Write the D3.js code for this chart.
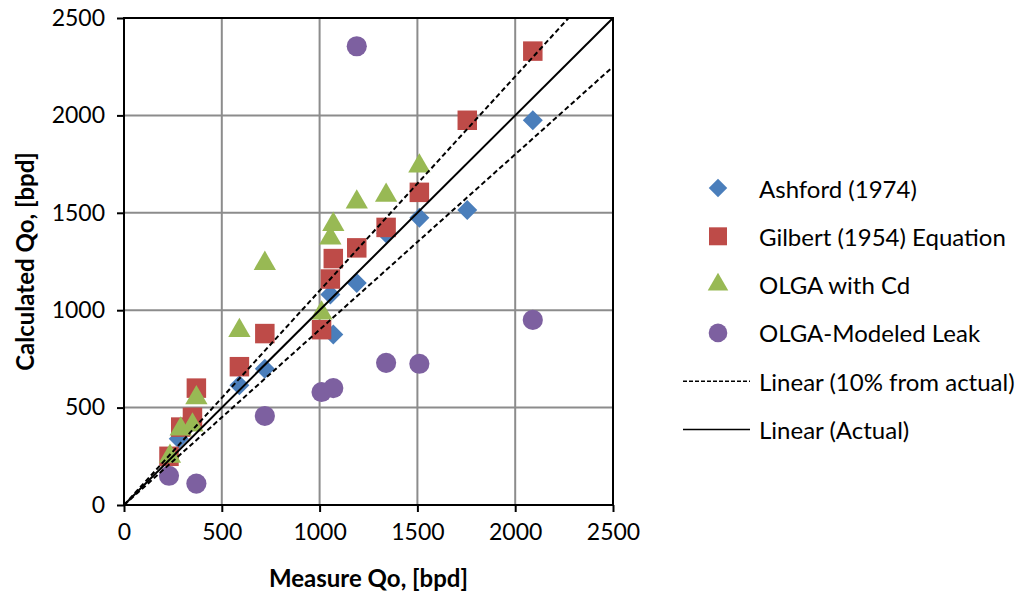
<!DOCTYPE html>
<html>
<head>
<meta charset="utf-8">
<script src="https://cdn.jsdelivr.net/npm/d3@7"></script>
<style>
  body { margin: 0; background: #fff; }
  text { font-family: Lato, "Open Sans", sans-serif; fill: #000; }
</style>
</head>
<body>
<div class="grafico"></div>
<script>
const width = 1028, height = 595;

const ashford = [[280, 340], [590, 615], [720, 700], [1055, 1080], [1070, 875],
                 [1190, 1140], [1340, 1395], [1510, 1475], [1755, 1515], [2090, 1975]];
const gilbert = [[230, 250], [290, 400], [350, 450], [370, 600], [590, 710], [720, 880],
                 [1010, 900], [1055, 1160], [1070, 1265], [1190, 1320], [1340, 1425],
                 [1510, 1605], [1755, 1975], [2090, 2330]];
const olgaCd = [[235, 250], [290, 390], [350, 410], [370, 550], [590, 895], [720, 1240],
                [1010, 985], [1055, 1370], [1070, 1440], [1190, 1555], [1340, 1590], [1510, 1740]];
const olgaLeak = [[230, 150], [370, 110], [720, 457], [1010, 580], [1070, 600],
                  [1190, 2355], [1340, 730], [1510, 725], [2090, 950]];
const ticks = [0, 500, 1000, 1500, 2000, 2500];
const seriesNames = ["Ashford (1974)", "Gilbert (1954) Equation", "OLGA with Cd", "OLGA-Modeled Leak"];
const lineNames = ["Linear (10% from actual)", "Linear (Actual)"];

const plot = {left: 124, right: 613, top: 18, bottom: 505};

const x = d3.scaleLinear().domain([0, 2500]).range([plot.left, plot.right]);
const y = d3.scaleLinear().domain([0, 2500]).range([plot.bottom, plot.top]);

const svg = d3.select(".grafico")
    .append("svg")
    .attr("width", width)
    .attr("height", height);

// grid
svg.append("g")
    .selectAll("line.v")
    .data(ticks.slice(1, -1))
    .join("line")
    .attr("x1", d => x(d)).attr("x2", d => x(d))
    .attr("y1", plot.top).attr("y2", plot.bottom)
    .attr("stroke", "#8c8c8c").attr("stroke-width", 2);
svg.append("g")
    .selectAll("line.h")
    .data(ticks.slice(1, -1))
    .join("line")
    .attr("y1", d => y(d)).attr("y2", d => y(d))
    .attr("x1", plot.left).attr("x2", plot.right)
    .attr("stroke", "#8c8c8c").attr("stroke-width", 2);

// markers
const series = [
  {data: ashford, color: "#4a7ebb", shape: d3.symbolSquare, size: 200, rot: 45},
  {data: gilbert, color: "#be4b48", shape: d3.symbolSquare, size: 380, rot: 0},
  {data: olgaCd, color: "#98b954", shape: d3.symbolTriangle, size: 215, rot: 0},
  {data: olgaLeak, color: "#7d60a0", shape: d3.symbolCircle, size: 320, rot: 0}
];

series.forEach(s => {
  svg.append("g")
    .selectAll("path")
    .data(s.data)
    .join("path")
    .attr("d", d3.symbol().type(s.shape).size(s.size))
    .attr("transform", d => `translate(${x(d[0])},${y(d[1])}) rotate(${s.rot})`)
    .attr("fill", s.color);
});

// linear lines
const lines = [
  {k: 1.1, dash: "5,3"},
  {k: 0.9, dash: "5,3"},
  {k: 1.0, dash: null}
];
lines.forEach(l => {
  const xEnd = Math.min(2500, 2500 / l.k);
  svg.append("line")
    .attr("x1", x(0)).attr("y1", y(0))
    .attr("x2", x(xEnd)).attr("y2", y(Math.min(2500, l.k * xEnd)))
    .attr("stroke", "#000")
    .attr("stroke-width", 2)
    .attr("stroke-dasharray", l.dash);
});

// axes
const fmt = d3.format("d");
const xAxis = svg.append("g")
    .attr("transform", `translate(0,${plot.bottom})`)
    .call(d3.axisBottom(x).tickValues(ticks).tickFormat(fmt).tickSize(7).tickPadding(12));
const yAxis = svg.append("g")
    .attr("transform", `translate(${plot.left},0)`)
    .call(d3.axisLeft(y).tickValues(ticks).tickFormat(fmt).tickSize(7).tickPadding(12));
[xAxis, yAxis].forEach(a => {
  a.select(".domain").remove();
  a.selectAll(".tick line").attr("stroke", "#000").attr("stroke-width", 2);
  a.selectAll(".tick text").style("font-size", "23px").attr("fill", "#000");
});

svg.append("rect")
    .attr("x", plot.left).attr("y", plot.top)
    .attr("width", plot.right - plot.left)
    .attr("height", plot.bottom - plot.top)
    .attr("fill", "none")
    .attr("stroke", "#000")
    .attr("stroke-width", 2);

// titles
svg.append("text")
    .attr("x", (plot.left + plot.right) / 2)
    .attr("y", 587)
    .attr("text-anchor", "middle")
    .style("font-size", "24px")
    .style("font-weight", "bold")
    .text("Measure Qo, [bpd]");
svg.append("text")
    .attr("transform", `translate(34,${(plot.top + plot.bottom) / 2}) rotate(-90)`)
    .attr("text-anchor", "middle")
    .style("font-size", "24px")
    .style("font-weight", "bold")
    .text("Calculated Qo, [bpd]");

// legend
const legX = 718, legY0 = 188, legStep = 48.3;
series.forEach((s, i) => {
  const yy = legY0 + i * legStep;
  svg.append("path")
    .attr("d", d3.symbol().type(s.shape).size(s.size * 0.85))
    .attr("transform", `translate(${legX},${yy}) rotate(${s.rot})`)
    .attr("fill", s.color);
  svg.append("text")
    .attr("x", 759).attr("y", yy)
    .attr("dominant-baseline", "central")
    .style("font-size", "24px")
    .text(seriesNames[i]);
});
lineNames.forEach((name, i) => {
  const yy = legY0 + (4 + i) * legStep;
  svg.append("line")
    .attr("x1", 683).attr("x2", 750)
    .attr("y1", yy).attr("y2", yy)
    .attr("stroke", "#000")
    .attr("stroke-width", 1.5)
    .attr("stroke-dasharray", i === 0 ? "4,2" : null);
  svg.append("text")
    .attr("x", 759).attr("y", yy)
    .attr("dominant-baseline", "central")
    .style("font-size", "24px")
    .text(name);
});
</script>
</body>
</html>
